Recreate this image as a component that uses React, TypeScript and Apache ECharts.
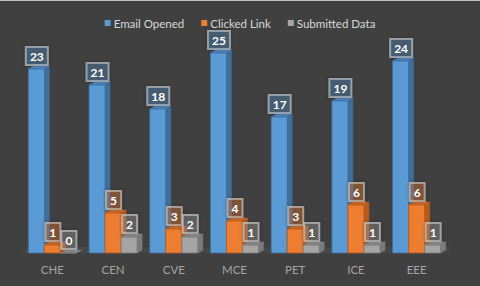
import React, { useEffect, useRef } from "react";
import * as echarts from "echarts";

const categories = ["CHE", "CEN", "CVE", "MCE", "PET", "ICE", "EEE"];
const seriesNames = ["Email Opened", "Clicked Link", "Submitted Data"];
const emailOpened = [23, 21, 18, 25, 17, 19, 24];
const clickedLink = [1, 5, 3, 4, 3, 6, 6];
const submittedData = [0, 2, 2, 1, 1, 1, 1];

const palette = [
  { front: "#5b9bd5", side: "#3f6f9c", top: "#4f8bc4", label: "rgba(91,155,213,0.3)" },
  { front: "#ed7d31", side: "#b85a1c", top: "#d46d28", label: "rgba(237,125,49,0.32)" },
  { front: "#a5a5a5", side: "#7a7a7a", top: "#8f8f8f", label: "rgba(165,165,165,0.3)" },
];

const FONT = "Lato, 'Liberation Sans', sans-serif";
const DX = 5;
const DY = -3;

function makeBarSeries(name: string, values: number[], s: number) {
  const c = palette[s];
  return {
    type: "custom",
    name,
    color: c.front,
    itemStyle: { color: c.front },
    z: 2 + s,
    data: values.map((v, i) => [i, v]),
    renderItem: (params: any, api: any) => {
      const cat = api.value(0);
      const val = api.value(1);
      const top = api.coord([cat, val]);
      const base = api.coord([cat, 0]);
      const band = api.size([1, 0])[0];
      const w = band * 0.264;
      const x0 = top[0] - 1.5 * w + s * w;
      const yT = top[1];
      const yB = base[1];
      const children: any[] = [
        {
          type: "polygon",
          shape: { points: [[x0 + w, yT], [x0 + w + DX, yT + DY], [x0 + w + DX, yB + DY], [x0 + w, yB]] },
          style: { fill: c.side, stroke: c.side, lineWidth: 0.5 },
        },
        {
          type: "polygon",
          shape: { points: [[x0, yT], [x0 + w, yT], [x0 + w + DX, yT + DY], [x0 + DX, yT + DY]] },
          style: { fill: c.top, stroke: c.side, lineWidth: 0.5 },
        },
        {
          type: "rect",
          shape: { x: x0, y: yT, width: w, height: yB - yT },
          style: { fill: c.front, stroke: c.side, lineWidth: 0.8 },
        },
        {
          type: "text",
          x: x0 + w / 2 + 0.5,
          y: yT + DY - 1,
          z2: 10,
          style: {
            text: String(val),
            fill: "#ffffff",
            fontSize: 12,
            fontWeight: "bold",
            fontFamily: FONT,
            align: "center",
            verticalAlign: "bottom",
            lineHeight: 13,
            backgroundColor: c.label,
            borderColor: "rgba(210,210,210,0.65)",
            borderWidth: 1,
            padding: [3, 4, 2, 4],
            shadowColor: "rgba(0,0,0,0.35)",
            shadowBlur: 4,
          },
        },
      ];
      return { type: "group", children };
    },
  };
}

export default function App() {
  const ref = useRef<HTMLDivElement>(null);
  useEffect(() => {
    document.body.style.margin = "0";
    const chart = echarts.init(ref.current!, null, { renderer: "svg" });
    chart.setOption({
      animation: false,
      backgroundColor: "#404040",
      legend: {
        top: 11,
        left: "center",
        itemWidth: 6,
        itemHeight: 6,
        itemGap: 17,
        icon: "rect",
        textStyle: { color: "#d9d9d9", fontSize: 11.5, fontFamily: FONT, padding: [0, 0, 0, -2] },
        data: seriesNames,
      },
      grid: { left: 22, right: 33, top: 12, bottom: 33 },
      xAxis: {
        type: "category",
        data: categories,
        axisLine: { show: false },
        axisTick: { show: false },
        axisLabel: { color: "#a6a6a6", fontSize: 11.5, fontFamily: FONT, margin: 10 },
      },
      yAxis: {
        type: "value",
        min: 0,
        max: 30,
        show: false,
        splitLine: { show: false },
      },
      series: [
        {
          type: "custom",
          name: "floor",
          silent: true,
          z: 1,
          data: [[0, 0]],
          renderItem: (params: any, api: any) => {
            const cs = params.coordSys;
            const yB = api.coord([0, 0])[1];
            return {
              type: "polygon",
              shape: {
                points: [
                  [cs.x, yB],
                  [cs.x + cs.width, yB],
                  [cs.x + cs.width + DX, yB + DY - 3],
                  [cs.x + DX, yB + DY - 3],
                ],
              },
              style: { fill: "#474747" },
            };
          },
        },
        makeBarSeries(seriesNames[0], emailOpened, 0),
        makeBarSeries(seriesNames[1], clickedLink, 1),
        makeBarSeries(seriesNames[2], submittedData, 2),
      ],
    });
    return () => chart.dispose();
  }, []);
  return (
    <div
      ref={ref}
      style={{ position: "absolute", left: 0, top: 0, width: 480, height: 286, borderTop: "1px solid #bfbfbf", boxSizing: "border-box" }}
    />
  );
}
